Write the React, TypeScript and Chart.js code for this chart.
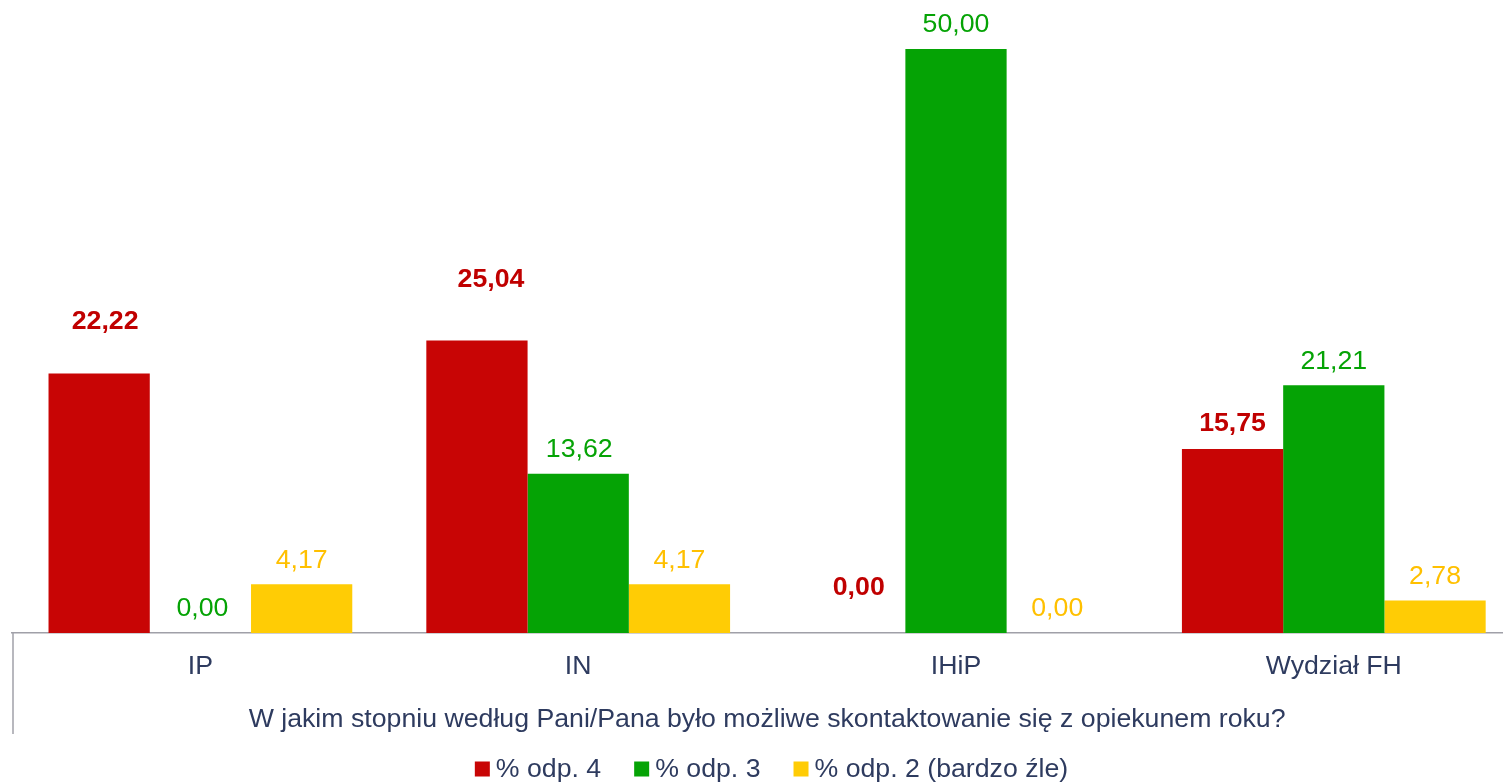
import React, { useEffect, useRef } from "react";
import { Chart, registerables } from "chart.js";

Chart.register(...registerables);

const categories = ["IP", "IN", "IHiP", "Wydział FH"];
const seriesLabels = ["% odp. 4", "% odp. 3", "% odp. 2 (bardzo źle)"];
const odp4 = [22.22, 25.04, 0.0, 15.75];
const odp3 = [0.0, 13.62, 50.0, 21.21];
const odp2 = [4.17, 4.17, 0.0, 2.78];
const axisTitle = "W jakim stopniu według Pani/Pana było możliwe skontaktowanie się z opiekunem roku?";

const barColors = ["#C80505", "#05A305", "#FFCC05"];
const labelColors = ["#C00000", "#05A305", "#FFC000"];
const labelBold = [true, false, false];
// label placement (manual offsets as in the original chart)
const labelLift = [
  [52, 61, 45, 25],
  [24, 24, 24, 24],
  [24, 24, 24, 24],
];
const labelShift = [
  [6, 14, 4, 0],
  [2, 1, 0, 0],
  [0, 0, 0, 0],
];

const FONT = "'Liberation Sans', Arial, sans-serif";
const FS = 26.7;
const TEXT = "#2E3B5F";

const fmt = (v: number) => v.toFixed(2).replace(".", ",");

const labelsPlugin = {
  id: "valueLabels",
  afterDatasetsDraw(chart: any) {
    const ctx = chart.ctx;
    ctx.save();
    ctx.textAlign = "center";
    ctx.textBaseline = "middle";
    chart.data.datasets.forEach((ds: any, di: number) => {
      const meta = chart.getDatasetMeta(di);
      meta.data.forEach((el: any, i: number) => {
        ctx.font = `${labelBold[di] ? "bold " : ""}${FS}px ${FONT}`;
        ctx.fillStyle = labelColors[di];
        ctx.fillText(fmt(ds.data[i]), el.x + labelShift[di][i], el.y - labelLift[di][i]);
      });
    });
    ctx.restore();
  },
};

const decorPlugin = {
  id: "decor",
  afterDraw(chart: any) {
    const ctx = chart.ctx;
    const area = chart.chartArea;
    const xs = chart.scales.x;
    ctx.save();
    // left category border line
    ctx.strokeStyle = "#A0A0A8";
    ctx.lineWidth = 1.5;
    ctx.beginPath();
    ctx.moveTo(area.left + 1.5, area.bottom);
    ctx.lineTo(area.left + 1.5, xs.bottom - 2);
    ctx.stroke();

    // legend
    ctx.font = `${FS}px ${FONT}`;
    ctx.textBaseline = "middle";
    ctx.textAlign = "left";
    const box = 15;
    const gap = 6;
    const spacing = 33;
    const widths = seriesLabels.map((t) => box + gap + ctx.measureText(t).width);
    const total = widths.reduce((a, b) => a + b, 0) + spacing * (widths.length - 1);
    let x = chart.width / 2 - total / 2;
    const y = chart.height - 13;
    seriesLabels.forEach((t, i) => {
      ctx.fillStyle = barColors[i];
      ctx.fillRect(x, y - box / 2, box, box);
      ctx.fillStyle = TEXT;
      ctx.fillText(t, x + box + gap, y + 1);
      x += widths[i] + spacing;
    });
    ctx.restore();
  },
};

export default function App() {
  const ref = useRef<HTMLCanvasElement>(null);
  useEffect(() => {
    document.body.style.margin = "0";
    document.body.style.overflow = "hidden";
    const chart = new Chart(ref.current!, {
      type: "bar",
      data: {
        labels: categories,
        datasets: [
          { label: seriesLabels[0], data: odp4, backgroundColor: barColors[0] },
          { label: seriesLabels[1], data: odp3, backgroundColor: barColors[1] },
          { label: seriesLabels[2], data: odp2, backgroundColor: barColors[2] },
        ],
      },
      options: {
        animation: false,
        responsive: true,
        maintainAspectRatio: false,
        layout: { padding: { left: 11.5, right: 20.3, top: 0, bottom: 46 } },
        datasets: { bar: { categoryPercentage: 0.804, barPercentage: 1.0, borderWidth: 0 } },
        plugins: {
          legend: { display: false },
          tooltip: { enabled: false },
          title: { display: false },
        },
        scales: {
          x: {
            grid: { display: false, drawTicks: false },
            border: { display: true, color: "#A0A0A8", width: 1.5 },
            ticks: { color: TEXT, font: { family: FONT, size: FS }, padding: 18 },
            title: {
              display: true,
              text: axisTitle,
              color: TEXT,
              font: { family: FONT, size: FS },
              padding: { top: 3, bottom: 0 },
            },
          },
          y: { display: false, min: 0, max: 54.2 },
        },
      },
      plugins: [labelsPlugin, decorPlugin],
    });
    return () => chart.destroy();
  }, []);
  return (
    <div style={{ position: "fixed", left: 0, top: 0, width: 1503, height: 782, overflow: "hidden", background: "#fff" }}>
      <div style={{ position: "relative", width: 1543, height: 782 }}>
        <canvas ref={ref} />
      </div>
    </div>
  );
}
